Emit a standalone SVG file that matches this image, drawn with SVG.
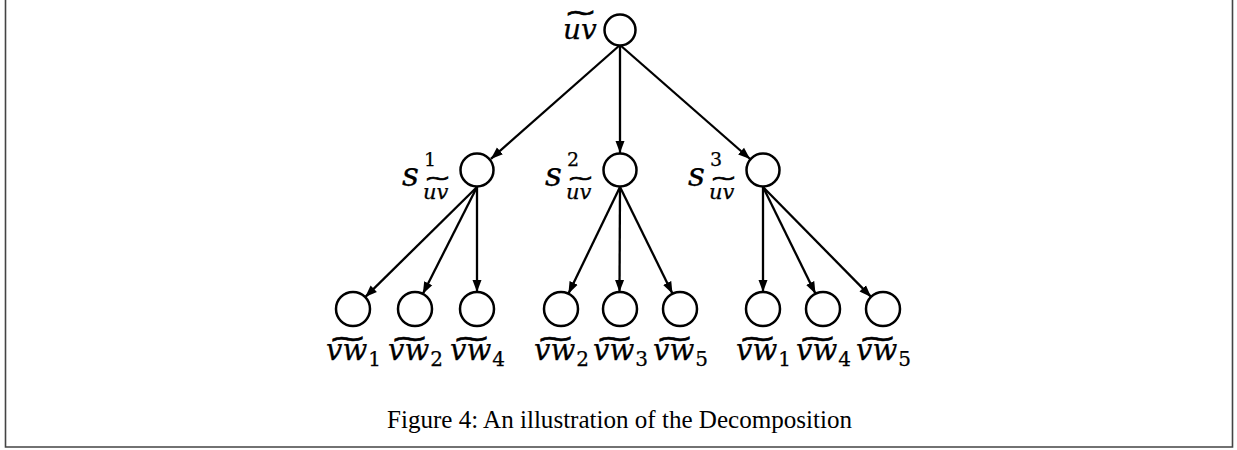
<svg xmlns="http://www.w3.org/2000/svg" width="1237" height="450" viewBox="0 0 1237 450">
<style>
.node{fill:#fff;stroke:#000;stroke-width:2.5}
.edge{stroke:#000;stroke-width:2.3;fill:none;marker-end:url(#ah)}
.m{font-family:"DejaVu Serif","Liberation Serif",serif;font-style:italic;fill:#000;stroke:#000;stroke-width:0.25}
.d{font-family:"DejaVu Serif","Liberation Serif",serif;font-style:normal}
.t{font-family:"DejaVu Sans",sans-serif;font-style:normal;stroke-width:0.7}
.lab{font-size:29px}
.cap{font-family:"Liberation Serif","DejaVu Serif",serif;fill:#000;font-size:25px}
.frame{fill:none;stroke:#444;stroke-width:1.6}
</style>
<defs>
<marker id="ah" markerUnits="userSpaceOnUse" markerWidth="14" markerHeight="12" refX="12" refY="5" orient="auto">
<path d="M0,0.5 L12,5 L0,9.5 z" fill="#000"/>
</marker>
</defs>
<path class="frame" d="M5.5,-2 V447 H1232.5 V-2"/>
<g id="connectors">
<line class="edge" x1="620" y1="45" x2="490.9" y2="158.9"/>
<line class="edge" x1="620" y1="45" x2="620" y2="153"/>
<line class="edge" x1="620" y1="45" x2="750.1" y2="159"/>
<line class="edge" x1="477" y1="187" x2="365.2" y2="297.1"/>
<line class="edge" x1="477" y1="187" x2="422.8" y2="293.9"/>
<line class="edge" x1="477" y1="187" x2="477" y2="292"/>
<line class="edge" x1="620" y1="187" x2="568.4" y2="293.7"/>
<line class="edge" x1="620" y1="187" x2="619.5" y2="292"/>
<line class="edge" x1="620" y1="187" x2="672.5" y2="293.7"/>
<line class="edge" x1="763" y1="187" x2="763" y2="292"/>
<line class="edge" x1="763" y1="187" x2="815.5" y2="293.7"/>
<line class="edge" x1="763" y1="187" x2="871.1" y2="296.9"/>
</g>
<g id="root">
<circle class="node" cx="620" cy="30" r="15.5"/>
<text class="m" font-size="28"><tspan class="t" x="564" y="21" font-size="25" textLength="33" lengthAdjust="spacingAndGlyphs">~</tspan><tspan x="563" y="39">uv</tspan></text>
</g>
<g id="s1">
<circle class="node" cx="477" cy="170" r="16.5"/>
<text class="m" font-size="33"><tspan x="402" y="186">s</tspan><tspan class="d" x="424" y="166" font-size="19">1</tspan><tspan class="t" x="424" y="185" font-size="19" textLength="27" lengthAdjust="spacingAndGlyphs">~</tspan><tspan x="423" y="199" font-size="21">uv</tspan></text>
</g>
<g id="s2">
<circle class="node" cx="620" cy="170" r="16.5"/>
<text class="m" font-size="33"><tspan x="545" y="186">s</tspan><tspan class="d" x="567" y="166" font-size="19">2</tspan><tspan class="t" x="567" y="185" font-size="19" textLength="27" lengthAdjust="spacingAndGlyphs">~</tspan><tspan x="566" y="199" font-size="21">uv</tspan></text>
</g>
<g id="s3">
<circle class="node" cx="763" cy="170" r="16.5"/>
<text class="m" font-size="33"><tspan x="688" y="186">s</tspan><tspan class="d" x="710" y="166" font-size="19">3</tspan><tspan class="t" x="710" y="185" font-size="19" textLength="27" lengthAdjust="spacingAndGlyphs">~</tspan><tspan x="709" y="199" font-size="21">uv</tspan></text>
</g>
<g id="a1">
<circle class="node" cx="353" cy="309" r="17"/>
<text class="m lab"><tspan class="t" x="328" y="346.5" font-size="27" textLength="39" lengthAdjust="spacingAndGlyphs">~</tspan><tspan x="326" y="360">vw</tspan><tspan class="d" dx="1" dy="6" font-size="20">1</tspan></text>
</g>
<g id="a2">
<circle class="node" cx="415" cy="309" r="17"/>
<text class="m lab"><tspan class="t" x="390" y="346.5" font-size="27" textLength="39" lengthAdjust="spacingAndGlyphs">~</tspan><tspan x="388" y="360">vw</tspan><tspan class="d" dx="1" dy="6" font-size="20">2</tspan></text>
</g>
<g id="a3">
<circle class="node" cx="477" cy="309" r="17"/>
<text class="m lab"><tspan class="t" x="452" y="346.5" font-size="27" textLength="39" lengthAdjust="spacingAndGlyphs">~</tspan><tspan x="450" y="360">vw</tspan><tspan class="d" dx="1" dy="6" font-size="20">4</tspan></text>
</g>
<g id="b1">
<circle class="node" cx="561" cy="309" r="17"/>
<text class="m lab"><tspan class="t" x="536" y="346.5" font-size="27" textLength="39" lengthAdjust="spacingAndGlyphs">~</tspan><tspan x="534" y="360">vw</tspan><tspan class="d" dx="1" dy="6" font-size="20">2</tspan></text>
</g>
<g id="b2">
<circle class="node" cx="620" cy="309" r="17"/>
<text class="m lab"><tspan class="t" x="595" y="346.5" font-size="27" textLength="39" lengthAdjust="spacingAndGlyphs">~</tspan><tspan x="593" y="360">vw</tspan><tspan class="d" dx="1" dy="6" font-size="20">3</tspan></text>
</g>
<g id="b3">
<circle class="node" cx="680" cy="309" r="17"/>
<text class="m lab"><tspan class="t" x="655" y="346.5" font-size="27" textLength="39" lengthAdjust="spacingAndGlyphs">~</tspan><tspan x="653" y="360">vw</tspan><tspan class="d" dx="1" dy="6" font-size="20">5</tspan></text>
</g>
<g id="c1">
<circle class="node" cx="763" cy="309" r="17"/>
<text class="m lab"><tspan class="t" x="738" y="346.5" font-size="27" textLength="39" lengthAdjust="spacingAndGlyphs">~</tspan><tspan x="736" y="360">vw</tspan><tspan class="d" dx="1" dy="6" font-size="20">1</tspan></text>
</g>
<g id="c2">
<circle class="node" cx="823" cy="309" r="17"/>
<text class="m lab"><tspan class="t" x="798" y="346.5" font-size="27" textLength="39" lengthAdjust="spacingAndGlyphs">~</tspan><tspan x="796" y="360">vw</tspan><tspan class="d" dx="1" dy="6" font-size="20">4</tspan></text>
</g>
<g id="c3">
<circle class="node" cx="883" cy="309" r="17"/>
<text class="m lab"><tspan class="t" x="858" y="346.5" font-size="27" textLength="39" lengthAdjust="spacingAndGlyphs">~</tspan><tspan x="856" y="360">vw</tspan><tspan class="d" dx="1" dy="6" font-size="20">5</tspan></text>
</g>
<text class="cap" x="387" y="428" textLength="465" lengthAdjust="spacingAndGlyphs">Figure 4: An illustration of the Decomposition</text>
</svg>
